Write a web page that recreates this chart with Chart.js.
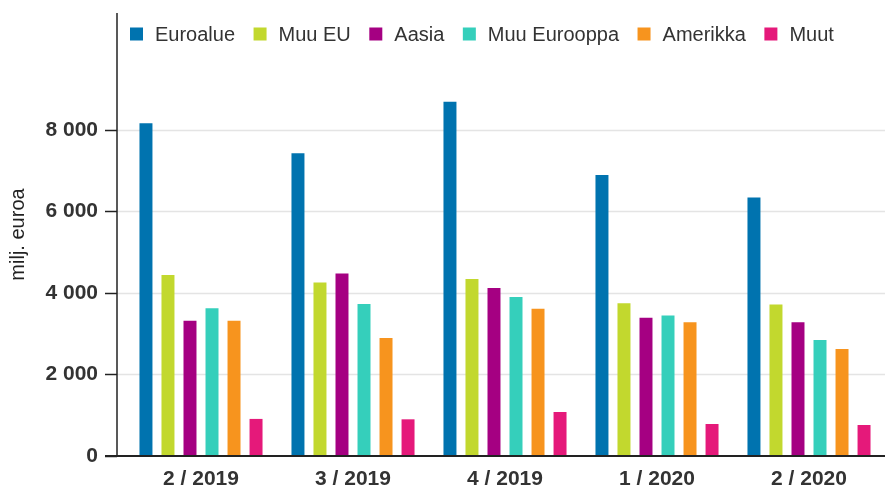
<!DOCTYPE html>
<html>
<head>
<meta charset="utf-8">
<script src="https://cdn.jsdelivr.net/npm/chart.js@4.4.1/dist/chart.umd.min.js"></script>
<style>
    html, body { margin: 0; padding: 0; background: #fff; }
</style>
</head>
<body>
<canvas id="chart" width="885" height="486"></canvas>
<script>
// Chart data
const quarters = ['2 / 2019', '3 / 2019', '4 / 2019', '1 / 2020', '2 / 2020'];
const seriesNames = ['Euroalue', 'Muu EU', 'Aasia', 'Muu Eurooppa', 'Amerikka', 'Muut'];
const seriesColors = ['#0073af', '#c2d82e', '#a50082', '#35cfbb', '#f7941e', '#e5197a'];

const euroalue = [8165, 7430, 8695, 6895, 6340];
const muuEU = [4440, 4255, 4345, 3745, 3720];
const aasia = [3320, 4480, 4125, 3395, 3280];
const muuEurooppa = [3625, 3730, 3900, 3445, 2845];
const amerikka = [3320, 2895, 3615, 3280, 2625];
const muut = [910, 900, 1080, 785, 760];

const yTicks = [0, 2000, 4000, 6000, 8000];
const yMax = 10870;

const FONT = '"Liberation Sans", Arial, sans-serif';
const TEXT_COLOR = '#333333';

// Axis line sits a few px left of the first category
const AXIS_GAP = 8;

const axisPlugin = {
    id: 'axisLines',
    beforeDatasetsDraw(chart) {
        const { ctx, chartArea, scales: { y } } = chart;
        const x0 = chartArea.left - AXIS_GAP;
        ctx.save();
        ctx.strokeStyle = '#e4e4e4';
        ctx.lineWidth = 1.5;
        y.ticks.forEach(t => {
            if (t.value === 0) return;
            const py = Math.round(y.getPixelForValue(t.value)) + 0.5;
            ctx.beginPath();
            ctx.moveTo(x0, py);
            ctx.lineTo(chartArea.right, py);
            ctx.stroke();
        });
        ctx.restore();
    },
    afterDatasetsDraw(chart) {
        const { ctx, chartArea, scales: { y } } = chart;
        const x0 = chartArea.left - AXIS_GAP;
        const base = y.getPixelForValue(0);
        ctx.save();
        ctx.strokeStyle = '#222222';
        ctx.lineWidth = 1.5;
        // y axis line
        ctx.beginPath();
        ctx.moveTo(x0, chartArea.top);
        ctx.lineTo(x0, base);
        ctx.stroke();
        // tick marks
        y.ticks.forEach(t => {
            const py = Math.round(y.getPixelForValue(t.value)) + 0.5;
            ctx.beginPath();
            ctx.moveTo(x0 - 12, py);
            ctx.lineTo(x0, py);
            ctx.stroke();
        });
        // baseline
        ctx.lineWidth = 2;
        ctx.beginPath();
        ctx.moveTo(x0 - 12, base);
        ctx.lineTo(chartArea.right, base);
        ctx.stroke();
        ctx.restore();
    }
};

const legendPlugin = {
    id: 'topLegend',
    afterDraw(chart) {
        const { ctx } = chart;
        let x = 130;
        const cy = 34;
        const box = 13;
        ctx.save();
        ctx.font = `20px ${FONT}`;
        ctx.textBaseline = 'middle';
        ctx.textAlign = 'left';
        chart.data.datasets.forEach(ds => {
            ctx.fillStyle = ds.backgroundColor;
            ctx.fillRect(x, cy - box / 2, box, box);
            ctx.fillStyle = TEXT_COLOR;
            ctx.fillText(ds.label, x + 25, cy + 1);
            x += 25 + ctx.measureText(ds.label).width + 18.5;
        });
        ctx.restore();
    }
};

function formatThousands(v) {
    return String(v).replace(/\B(?=(\d{3})+(?!\d))/g, ' ');
}

const seriesValues = [euroalue, muuEU, aasia, muuEurooppa, amerikka, muut];

const ctx = document.getElementById('chart').getContext('2d');
new Chart(ctx, {
    type: 'bar',
    data: {
        labels: quarters,
        datasets: seriesNames.map((name, i) => ({
            label: name,
            data: seriesValues[i],
            backgroundColor: seriesColors[i],
            borderWidth: 0,
            categoryPercentage: 0.869,
            barPercentage: 0.59
        }))
    },
    options: {
        responsive: false,
        animation: false,
        devicePixelRatio: 1,
        layout: { padding: { top: 13, right: 0, bottom: 0, left: 0 } },
        plugins: {
            legend: { display: false },
            tooltip: { enabled: false }
        },
        scales: {
            x: {
                afterFit: scale => {
                    scale.height = 30;
                    scale.paddingLeft = 0;
                    scale.paddingRight = 0;
                },
                grid: { display: false, drawTicks: false },
                border: { display: false },
                ticks: {
                    padding: 11,
                    color: TEXT_COLOR,
                    maxRotation: 0,
                    autoSkip: false,
                    font: { family: FONT, size: 21, weight: 'bold' }
                }
            },
            y: {
                min: 0,
                max: yMax,
                afterBuildTicks: scale => { scale.ticks = yTicks.map(v => ({ value: v })); },
                afterFit: scale => {
                    scale.width = 125;
                    scale.paddingTop = 0;
                    scale.paddingBottom = 0;
                },
                grid: { display: false, drawTicks: false },
                border: { display: false },
                ticks: {
                    padding: 27,
                    color: TEXT_COLOR,
                    font: { family: FONT, size: 21, weight: 'bold' },
                    callback: v => formatThousands(v)
                },
                title: {
                    display: true,
                    text: 'milj. euroa',
                    color: '#222222',
                    padding: { top: 6, bottom: 0 },
                    font: { family: FONT, size: 20 }
                }
            }
        }
    },
    plugins: [axisPlugin, legendPlugin]
});
</script>
</body>
</html>
